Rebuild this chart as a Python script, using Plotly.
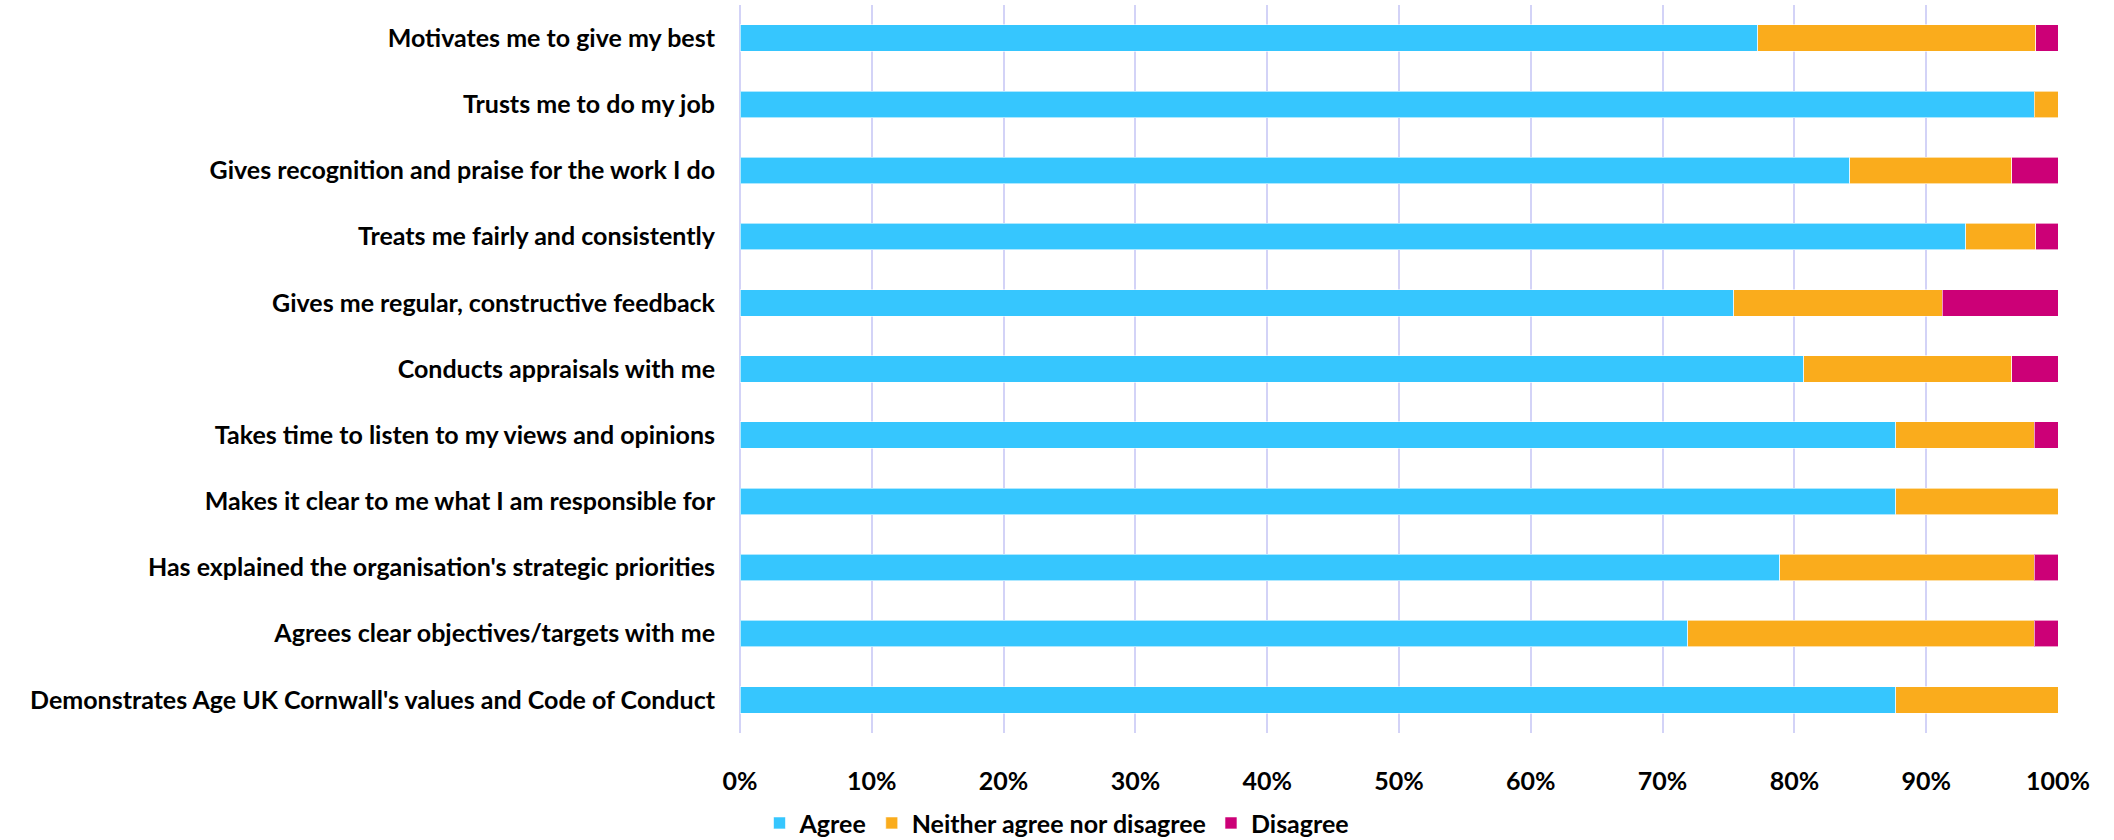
import plotly.graph_objects as go

categories = [
    "Motivates me to give my best",
    "Trusts me to do my job",
    "Gives recognition and praise for the work I do",
    "Treats me fairly and consistently",
    "Gives me regular, constructive feedback",
    "Conducts appraisals with me",
    "Takes time to listen to my views and opinions",
    "Makes it clear to me what I am responsible for",
    "Has explained the organisation's strategic priorities",
    "Agrees clear objectives/targets with me",
    "Demonstrates Age UK Cornwall's values and Code of Conduct",
]
agree = [77.2, 98.2, 84.2, 93.0, 75.4, 80.7, 87.7, 87.7, 78.9, 71.9, 87.7]
neither = [21.1, 1.8, 12.3, 5.3, 15.8, 15.8, 10.5, 12.3, 19.3, 26.3, 12.3]
disagree = [1.8, 0.0, 3.5, 1.8, 8.8, 3.5, 1.8, 0.0, 1.8, 1.8, 0.0]
series_names = ["Agree", "Neither agree nor disagree", "Disagree"]
colors = ["#36C6FE", "#FAAC1C", "#CC0077"]
x_ticks = [0, 10, 20, 30, 40, 50, 60, 70, 80, 90, 100]

FONT = "Lato, sans-serif"
FS = 25

fig = go.Figure()
for name, vals, col in zip(series_names, [agree, neither, disagree], colors):
    fig.add_trace(go.Bar(
        y=categories, x=vals, name=name, orientation="h",
        marker=dict(color=col, line=dict(color="rgba(255,255,255,0.6)", width=1)),
    ))

fig.update_layout(
    barmode="stack",
    bargap=0.6,
    width=2114, height=840,
    margin=dict(l=740, r=56, t=5, b=107, autoexpand=False),
    paper_bgcolor="white", plot_bgcolor="white",
    font=dict(family=FONT, size=FS, color="black"),
    legend=dict(
        orientation="h", xref="container", yref="container",
        x=0.5, xanchor="center", y=0.02, yanchor="middle",
        traceorder="normal",
        font=dict(family=FONT, size=FS, color="black", weight="bold"),
        itemclick=False,
    ),
    showlegend=True,
)
fig.update_xaxes(
    range=[0, 100], tickvals=x_ticks, ticktext=[f"{v}%" for v in x_ticks],
    showgrid=True, gridcolor="#D3D3F7", gridwidth=2,
    zeroline=True, zerolinecolor="#D3D3F7", zerolinewidth=2,
    showline=False, ticks="", ticklabelstandoff=31, automargin=False,
    tickfont=dict(family=FONT, size=FS, color="black", weight="bold"),
    fixedrange=True,
)
fig.update_yaxes(
    categoryorder="array", categoryarray=categories, autorange="reversed",
    showgrid=False, zeroline=False, showline=False, ticks="",
    ticklabelstandoff=24, automargin=False,
    tickfont=dict(family=FONT, size=FS, color="black", weight="bold"),
    fixedrange=True,
)

fig.write_html(
    "out.html",
    config={"displayModeBar": False},
    post_script="document.body.style.margin='0px';",
)
